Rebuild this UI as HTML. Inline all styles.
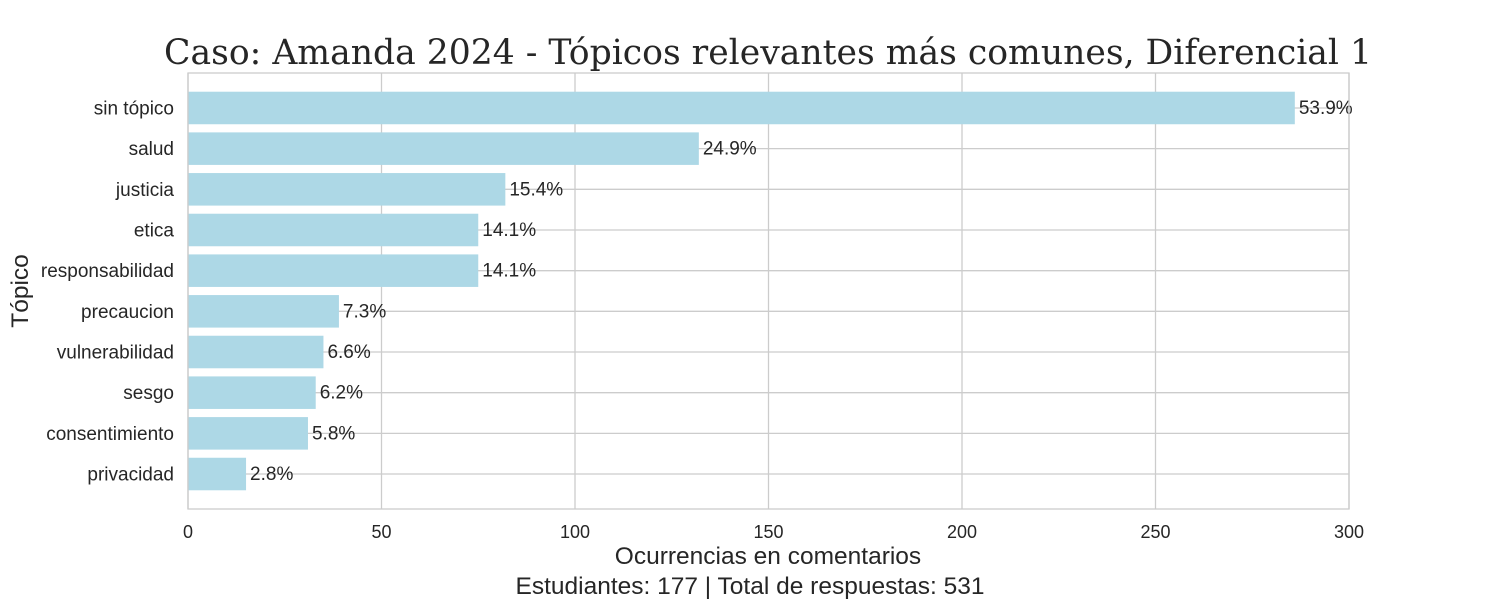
<!DOCTYPE html>
<html><head><meta charset="utf-8"><style>
body{margin:0;background:#fff;}
svg text{font-family:"Liberation Sans",sans-serif;fill:#262626;}
</style></head><body>
<svg id="chart" width="1500" height="600">
<text x="768" y="64" text-anchor="middle" style="font-family:'DejaVu Serif','Liberation Serif',serif;font-size:34.6px">Caso: Amanda 2024 - Tópicos relevantes más comunes, Diferencial 1</text>
<g id="grid"></g><g id="bars"></g><g id="labels"></g>
<rect x="188" y="73" width="1161" height="436" fill="none" stroke="#cccccc" stroke-width="1.3"/>
<text x="768" y="564" text-anchor="middle" font-size="24.5">Ocurrencias en comentarios</text>
<text x="750" y="594" text-anchor="middle" font-size="24.5">Estudiantes: 177 | Total de respuestas: 531</text>
<text transform="translate(28,291) rotate(-90)" text-anchor="middle" font-size="24.5">Tópico</text>
</svg>
<script>
const categories=["sin tópico","salud","justicia","etica","responsabilidad","precaucion","vulnerabilidad","sesgo","consentimiento","privacidad"];
const values=[286,132,82,75,75,39,35,33,31,15];
const pctLabels=["53.9%","24.9%","15.4%","14.1%","14.1%","7.3%","6.6%","6.2%","5.8%","2.8%"];
const xTicks=[0,50,100,150,200,250,300];
const NS="http://www.w3.org/2000/svg";
const x0=188,x1=1349,xMax=300,yTop=73,yBot=509;
const step=(yBot-yTop)/(categories.length-1+2*0.86);
const xs=v=>x0+(x1-x0)*v/xMax;
const ys=i=>yTop+step*(0.86+i);
function mk(t,a,p){const e=document.createElementNS(NS,t);for(const k in a)e.setAttribute(k,a[k]);document.getElementById(p).appendChild(e);return e;}
xTicks.forEach(t=>{
 const l=mk('line',{x1:xs(t),x2:xs(t),y1:yTop,y2:yBot,stroke:'#cccccc','stroke-width':1.3},'grid');
 
 
 const tx=mk('text',{x:xs(t),y:538,'text-anchor':'middle','font-size':18},'labels');
 tx.textContent=t;
 
 
});
categories.forEach((c,i)=>{
 const y=ys(i);
 const g=mk('line',{x1:x0,x2:x1,y1:y,y2:y,stroke:'#cccccc','stroke-width':1.3},'grid');
 
 
 const b=mk('rect',{x:x0,y:y-step*0.4,width:xs(values[i])-x0,height:step*0.8,fill:'#add8e6'},'bars');
 
 
 const t=mk('text',{x:174,y:y+6.5,'text-anchor':'end','font-size':19},'labels');
 t.textContent=c;
 
 
 const p=mk('text',{x:xs(values[i])+4,y:y+6,'font-size':19},'labels');
 p.textContent=pctLabels[i];
 
 
});
</script>
</body></html>
